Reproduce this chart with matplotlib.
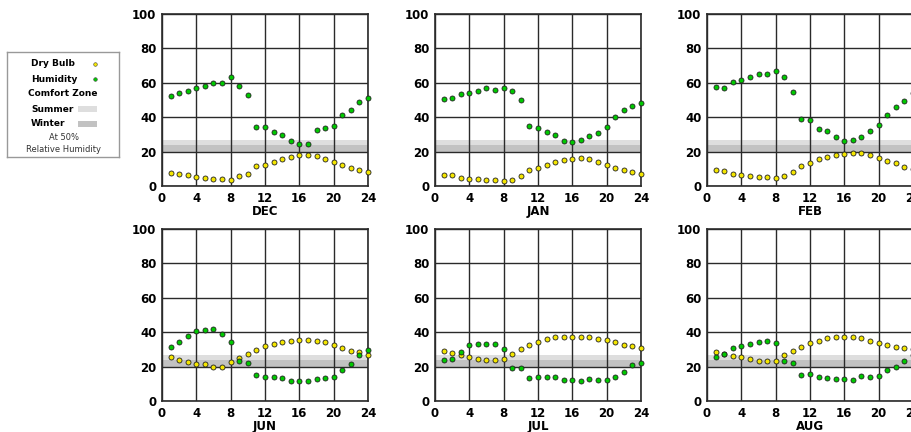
import matplotlib
matplotlib.use('Agg')
import matplotlib.pyplot as plt
from matplotlib.patches import Rectangle
import numpy as np

# Horas del día
hours = np.arange(1, 25)

# Temperatura de bulbo seco por mes
dry_dec = [7.8, 7.2, 6.2, 5.4, 4.9, 4.3, 4.3, 3.7, 5.6, 7.2, 11.8, 12.4,
           14.0, 15.7, 16.9, 18.1, 18.1, 17.5, 15.7, 14.2, 12.4, 10.7, 9.1, 8.3]
dry_jan = [6.4, 6.4, 4.5, 3.9, 3.9, 3.3, 3.3, 2.7, 3.3, 5.8, 9.1, 10.5,
           12.0, 13.8, 15.0, 15.5, 16.1, 15.5, 13.8, 12.0, 10.5, 9.1, 8.0, 7.0]
dry_feb = [9.3, 8.7, 7.0, 6.6, 5.8, 5.2, 5.2, 4.7, 5.8, 8.2, 11.7, 13.4,
           15.5, 16.7, 17.9, 18.4, 19.0, 19.0, 17.9, 16.1, 14.4, 13.4, 11.1, 9.8]
dry_jun = [25.6, 24.1, 22.9, 21.7, 21.7, 20.0, 20.0, 22.9, 25.2, 27.6, 29.9, 31.7,
           33.4, 34.4, 35.0, 35.5, 35.5, 35.0, 34.4, 32.6, 30.9, 29.3, 28.2, 27.0]
dry_jul = [29.1, 28.0, 26.8, 25.6, 24.5, 23.9, 23.9, 24.5, 27.4, 30.3, 32.6, 34.4,
           35.9, 37.1, 37.1, 37.1, 37.1, 37.1, 35.9, 35.3, 34.2, 32.6, 32.0, 30.9]
dry_aug = [28.5, 27.4, 26.2, 25.6, 24.5, 23.3, 23.3, 23.3, 26.8, 29.1, 31.5, 33.8,
           35.0, 36.5, 37.1, 37.1, 37.1, 36.5, 35.0, 33.8, 32.6, 31.5, 30.9, 30.0]

# Humedad relativa por mes
hum_dec = [52.4, 54.2, 55.3, 56.9, 58.1, 60.0, 60.0, 63.3, 58.3, 53.0, 34.2, 34.2,
           31.3, 29.5, 26.2, 24.5, 24.5, 32.4, 33.6, 34.8, 41.0, 44.1, 49.1, 51.3]
hum_jan = [50.5, 51.1, 53.2, 53.8, 55.1, 56.7, 56.1, 56.7, 55.1, 49.9, 35.0, 33.8,
           31.5, 29.9, 26.4, 25.8, 27.0, 29.3, 31.1, 34.4, 40.2, 44.1, 46.4, 48.2]
hum_feb = [57.3, 56.7, 60.2, 61.9, 63.1, 65.4, 65.4, 66.6, 63.1, 54.4, 39.0, 38.4,
           33.4, 31.7, 28.2, 26.4, 27.0, 28.7, 32.2, 35.7, 41.4, 46.0, 49.5, 54.2]
hum_jun = [31.5, 34.4, 37.9, 40.6, 41.2, 41.7, 39.0, 34.4, 23.3, 22.3, 15.3, 14.2,
           14.2, 13.6, 11.5, 11.5, 11.5, 12.6, 13.2, 14.2, 17.9, 21.4, 27.0, 29.9]
hum_jul = [23.9, 24.5, 28.5, 32.6, 33.2, 33.2, 33.2, 30.3, 19.4, 19.4, 13.6, 14.2,
           14.2, 14.2, 12.0, 12.0, 11.5, 12.6, 12.0, 12.0, 14.2, 17.1, 21.2, 22.3]
hum_aug = [25.6, 27.4, 30.9, 32.0, 33.2, 34.4, 35.0, 33.8, 23.3, 22.3, 15.3, 15.9,
           14.2, 13.6, 12.6, 12.6, 12.0, 14.8, 14.2, 14.8, 18.3, 19.8, 23.5, 27.0]

months = ['DEC', 'JAN', 'FEB', 'JUN', 'JUL', 'AUG']
dry_bulb = [dry_dec, dry_jan, dry_feb, dry_jun, dry_jul, dry_aug]
humidity = [hum_dec, hum_jan, hum_feb, hum_jun, hum_jul, hum_aug]

# Zona de confort (50% humedad relativa)
summer_zone = (20, 27)
winter_zone = (20, 24)

x_ticks = [0, 4, 8, 12, 16, 20, 24]
y_ticks = [0, 20, 40, 60, 80, 100]

# Colores
c_dry = '#f4e600'
c_hum = '#00c800'
c_summer = '#dedede'
c_winter = '#c2c2c2'
c_grid = '#2a2a2a'

W, H = 912, 432
fig = plt.figure(figsize=(W / 100, H / 100), dpi=100)

# Posición de cada panel en píxeles (izquierda, arriba)
lefts = [162, 435, 707]
tops = [14, 229]
ax_w, ax_h = 206, 172

for i, month in enumerate(months):
    left = lefts[i % 3]
    top = tops[i // 3]
    ax = fig.add_axes([left / W, (H - top - ax_h) / H, ax_w / W, ax_h / H])

    ax.axhspan(*summer_zone, color=c_summer, lw=0, zorder=0)
    ax.axhspan(*winter_zone, color=c_winter, lw=0, zorder=0)

    ax.set_xlim(0, 24)
    ax.set_ylim(0, 100)
    ax.set_xticks(x_ticks)
    ax.set_yticks(y_ticks)
    ax.grid(True, color=c_grid, lw=1.0, zorder=1)
    ax.set_axisbelow(True)
    ax.tick_params(length=0, pad=4, labelsize=8.5)
    ax.tick_params(axis='x', pad=4)
    for lab in ax.get_xticklabels() + ax.get_yticklabels():
        lab.set_fontweight('bold')
    for sp in ax.spines.values():
        sp.set_color(c_grid)
        sp.set_linewidth(1.2)

    ax.plot(hours, dry_bulb[i], 'o', ms=3.6, mfc=c_dry, mec='#222222',
            mew=0.6, clip_on=False, zorder=3)
    ax.plot(hours, humidity[i], 'o', ms=3.6, mfc=c_hum, mec='#222222',
            mew=0.6, clip_on=False, zorder=3)
    ax.set_xlabel(month, fontsize=8.5, fontweight='bold', labelpad=0)

# Leyenda en un eje propio, unidades en píxeles
lg = fig.add_axes([7 / W, (H - 157) / H, 112 / W, 105 / H])
lg.set_xlim(0, 112)
lg.set_ylim(105, 0)
lg.set_xticks([])
lg.set_yticks([])
for sp in lg.spines.values():
    sp.set_color('#999999')
    sp.set_linewidth(1.0)

fs = 6.5
lg.text(24, 12, 'Dry Bulb', fontsize=fs, fontweight='bold', va='center')
lg.plot([88], [12], 'o', ms=2.6, mfc=c_dry, mec='#444444', mew=0.4)
lg.text(24, 27, 'Humidity', fontsize=fs, fontweight='bold', va='center')
lg.plot([88], [27], 'o', ms=2.6, mfc=c_hum, mec='#444444', mew=0.4)
lg.text(56, 42, 'Comfort Zone', fontsize=fs, fontweight='bold', va='center', ha='center')
lg.text(24, 57, 'Summer', fontsize=fs, fontweight='bold', va='center')
lg.add_patch(Rectangle((71, 54), 19, 6, color=c_summer, lw=0))
lg.text(24, 72, 'Winter', fontsize=fs, fontweight='bold', va='center')
lg.add_patch(Rectangle((71, 69), 19, 6, color=c_winter, lw=0))
lg.text(57, 86, 'At 50%', fontsize=fs - 0.5, color='#333333', va='center', ha='center')
lg.text(57, 97, 'Relative Humidity', fontsize=fs - 0.5, color='#333333',
        va='center', ha='center')

fig.savefig('out.png', dpi=100)
